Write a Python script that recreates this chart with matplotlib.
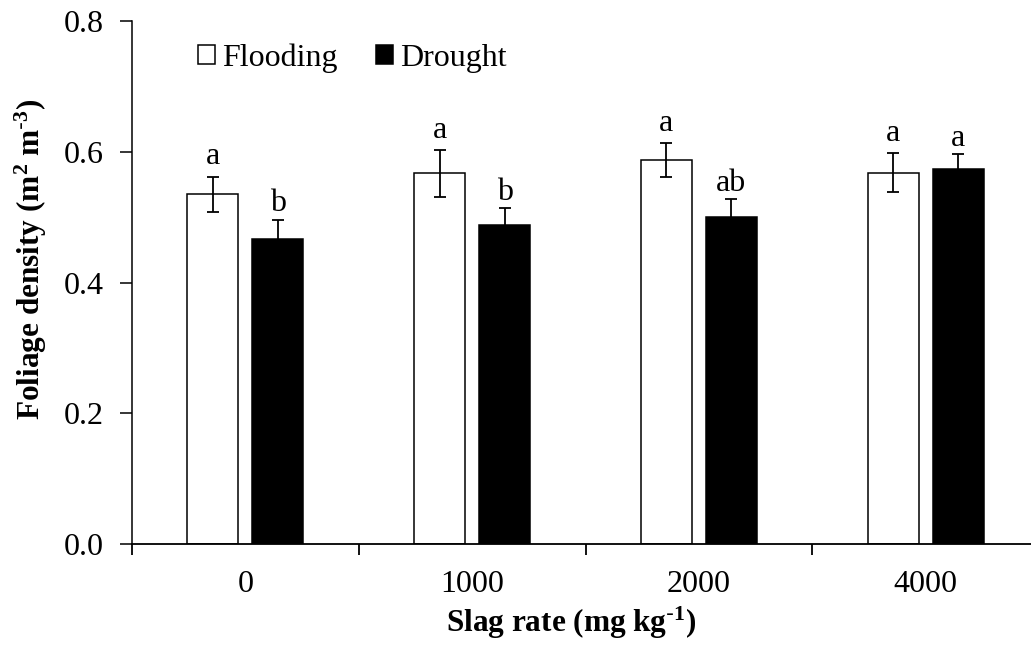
import numpy as np
import matplotlib.pyplot as plt

## Data
rates = ['0', '1000', '2000', '4000']
flooding = [0.535, 0.567, 0.587, 0.568]
flooding_err = [0.027, 0.036, 0.026, 0.030]
drought = [0.467, 0.488, 0.500, 0.573]
drought_err = [0.029, 0.026, 0.028, 0.023]
flooding_letters = ['a', 'a', 'a', 'a']
drought_letters = ['b', 'b', 'ab', 'a']

plt.rcParams['font.family'] = ['Liberation Serif', 'DejaVu Serif']
plt.rcParams['mathtext.default'] = 'regular'

fig = plt.figure(figsize=(10.31, 6.47), dpi=100)
ax = fig.add_axes([132 / 1031, 103 / 647, 907 / 1031, 523 / 647])

x = np.arange(len(rates))
width = 0.225
offset = 0.143

ax.bar(x - offset, flooding, width, color='white', edgecolor='black',
       linewidth=1.1, label='Flooding', zorder=2)
ax.bar(x + offset, drought, width, color='black', edgecolor='black',
       linewidth=1.1, label='Drought', zorder=2)
ax.errorbar(x - offset, flooding, yerr=flooding_err, fmt='none',
            ecolor='black', elinewidth=1.3, capsize=4.3, capthick=1.3, zorder=3)
ax.errorbar(x + offset, drought, yerr=drought_err, fmt='none',
            ecolor='black', elinewidth=1.3, capsize=4.3, capthick=1.3, zorder=3)

# significance letters above the error bars
for i in range(len(rates)):
    ax.text(x[i] - offset, flooding[i] + flooding_err[i] + 0.008,
            flooding_letters[i], ha='center', va='bottom', fontsize=23)
    ax.text(x[i] + offset, drought[i] + drought_err[i] + 0.002,
            drought_letters[i], ha='center', va='bottom', fontsize=23)

ax.set_xlim(-0.5, len(rates) - 0.5)
ax.set_ylim(0, 0.8)
ax.set_yticks(np.arange(0, 0.81, 0.2))
ax.set_yticklabels(['%.1f' % v for v in np.arange(0, 0.81, 0.2)], fontsize=23)

# category boundaries as tick marks, labels at the centres
ax.set_xticks(np.arange(-0.5, len(rates), 1.0))
ax.set_xticklabels([])
ax.set_xticks(x, minor=True)
ax.set_xticklabels(rates, minor=True, fontsize=23)
ax.tick_params(axis='x', which='major', length=8, width=1.3, direction='out')
ax.tick_params(axis='x', which='minor', length=0, pad=19)
ax.tick_params(axis='y', length=9, width=1.1, direction='out', pad=11)

for side in ['top', 'right']:
    ax.spines[side].set_visible(False)
ax.spines['left'].set_linewidth(1.1)
ax.spines['bottom'].set_linewidth(1.3)

ax.set_xlabel(r'Slag rate (mg kg$^{\text{-}1}$)', fontsize=22.5, fontweight='bold')
ax.xaxis.set_label_coords(0.484, -0.151)
ax.xaxis.label.set_va('center')
ax.set_ylabel(r'Foliage density (m$^{2}$ m$^{\text{-}3}$)', fontsize=22.5, fontweight='bold')
ax.yaxis.set_label_coords(-0.112, 0.545)
ax.yaxis.label.set_va('center')

ax.legend(loc='upper left', bbox_to_anchor=(0.048, 1.0), ncol=2, frameon=False,
          fontsize=23, handlelength=0.55, handleheight=0.55, handletextpad=0.2,
          columnspacing=1.2, borderaxespad=0.3)

fig.savefig('out.png', dpi=100)
